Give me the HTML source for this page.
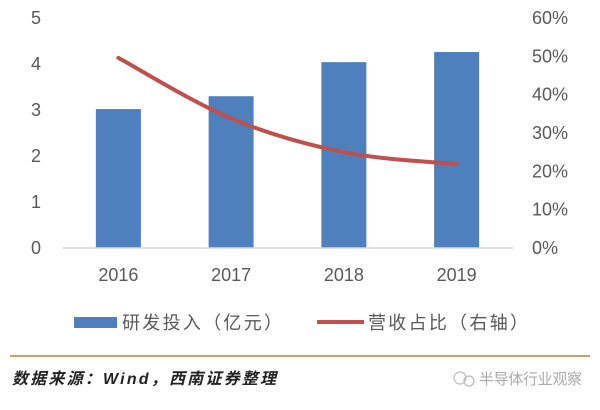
<!DOCTYPE html>
<html><head><meta charset="utf-8"><style>
body{margin:0;background:#fff;width:600px;height:405px;overflow:hidden;font-family:"Liberation Sans","Noto Sans CJK SC",sans-serif;}
svg text{font-family:"Liberation Sans","Noto Sans CJK SC",sans-serif;}
</style></head><body>
<svg id="chart" width="600" height="405" xmlns="http://www.w3.org/2000/svg">
<g id="plot"></g>
<g>
<rect x="74" y="317" width="43" height="11" fill="#4e80bd"/>
<text x="122" y="329" font-size="18" textLength="160" fill="#595959">研发投入（亿元）</text>
<line x1="317" y1="322" x2="364" y2="322" stroke="#c0504d" stroke-width="4"/>
<text x="368" y="329" font-size="18" textLength="160" fill="#595959">营收占比（右轴）</text>
</g>
<line x1="10" y1="356" x2="590" y2="356" stroke="#c9a26e" stroke-width="2"/>
<text x="12" y="384" font-size="16" font-style="italic" font-weight="bold" textLength="264" fill="#222">数据来源：Wind，西南证券整理</text>
<g>
<circle cx="460" cy="378" r="6" fill="none" stroke="#bbb" stroke-width="1.2"/>
<circle cx="469" cy="381" r="5" fill="none" stroke="#bbb" stroke-width="1.2"/>
<text x="479" y="384" font-size="15" textLength="103" fill="#aaa">半导体行业观察</text>
</g>
</svg>
<script>
const categories=["2016","2017","2018","2019"];
const barValues=[3.02,3.30,4.04,4.26];
const lineValues=[49.6,33.8,25.0,21.9];
const leftTicks=[0,1,2,3,4,5];
const rightTicks=[0,10,20,30,40,50,60];
const NS="http://www.w3.org/2000/svg";
const g=document.getElementById('plot');
const x0=62,x1=513,yTop=18,yBot=248;
const band=(x1-x0)/categories.length;
const xc=i=>x0+band*(i+0.5);
const yL=v=>yBot-(v/5)*(yBot-yTop);
const yR=v=>yBot-(v/60)*(yBot-yTop);
function mk(t,a){const e=document.createElementNS(NS,t);for(const k in a)e.setAttribute(k,a[k]);g.appendChild(e);return e;}
leftTicks.forEach(v=>{const e=mk('text',{x:36,y:yL(v)+6,'font-size':18,fill:'#595959','text-anchor':'middle'});e.textContent=v;

});
rightTicks.forEach(v=>{const e=mk('text',{x:532,y:yR(v)+6,'font-size':18,fill:'#595959'});e.textContent=v+'%';

});
barValues.forEach((v,i)=>{const e=mk('rect',{x:xc(i)-22.5,y:yL(v),width:45,height:yBot-yL(v),fill:'#4e80bd'});

});
const ax=mk('line',{x1:x0,y1:yBot,x2:x1,y2:yBot,stroke:'#d9d9d9','stroke-width':1.5});


categories.forEach((c,i)=>{const e=mk('text',{x:xc(i),y:281,'font-size':18,fill:'#595959','text-anchor':'middle'});e.textContent=c;

});
const pts=lineValues.map((v,i)=>[xc(i),yR(v)]);
let d='M'+pts[0][0]+','+pts[0][1];
for(let i=0;i<pts.length-1;i++){const p0=pts[i-1]||pts[i],p1=pts[i],p2=pts[i+1],p3=pts[i+2]||p2;const t=0.17;
d+=' C'+(p1[0]+(p2[0]-p0[0])*t)+','+(p1[1]+(p2[1]-p0[1])*t)+' '+(p2[0]-(p3[0]-p1[0])*t)+','+(p2[1]-(p3[1]-p1[1])*t)+' '+p2[0]+','+p2[1];}
const ln=mk('path',{d:d,fill:'none',stroke:'#c0504d','stroke-width':4,'stroke-linecap':'round'});


</script>
</body></html>
